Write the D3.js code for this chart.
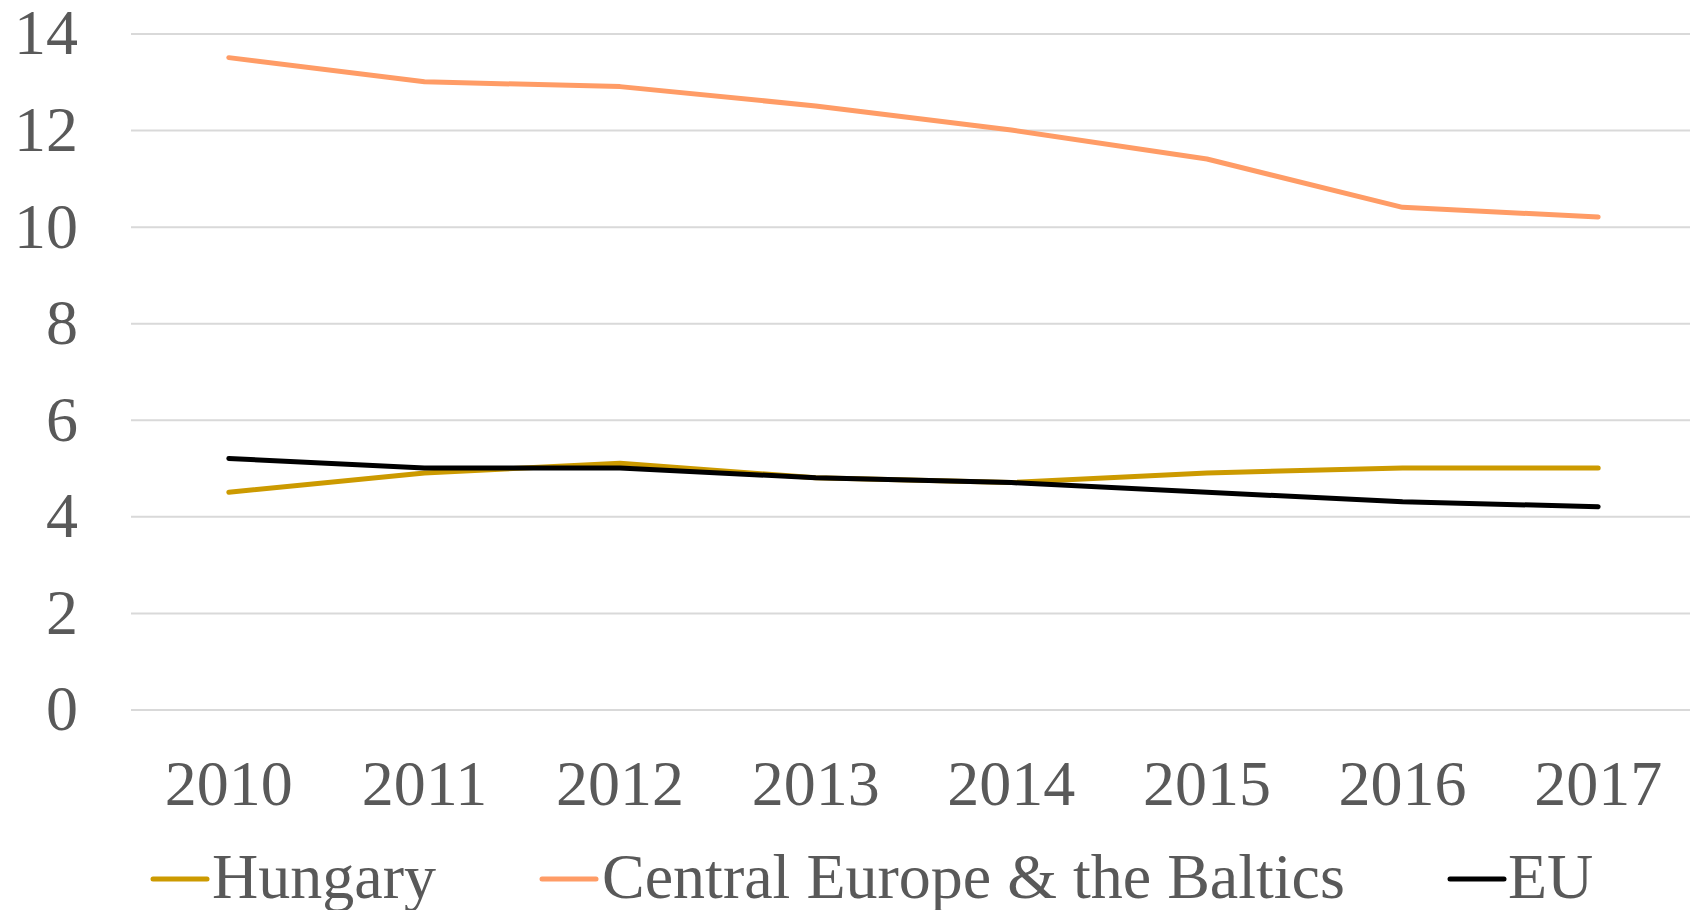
<!DOCTYPE html>
<html>
<head>
<meta charset="utf-8">
<script src="https://cdn.jsdelivr.net/npm/d3@7"></script>
<style>
  body { margin: 0; background: #fff; }
  svg text { font-family: "Liberation Serif", "Times New Roman", serif; fill: #595959; }
</style>
</head>
<body>
<svg id="chart"></svg>
<script>
// data
const years = ["2010", "2011", "2012", "2013", "2014", "2015", "2016", "2017"];
const hungary = [4.5, 4.9, 5.1, 4.8, 4.7, 4.9, 5.0, 5.0];
const ceBaltics = [13.5, 13.0, 12.9, 12.5, 12.0, 11.4, 10.4, 10.2];
const eu = [5.2, 5.0, 5.0, 4.8, 4.7, 4.5, 4.3, 4.2];
const yTicks = [0, 2, 4, 6, 8, 10, 12, 14];

const series = [
  { name: "Hungary", values: hungary, color: "#cc9a00", lx: 153, tx: 212 },
  { name: "Central Europe & the Baltics", values: ceBaltics, color: "#ff9c66", lx: 542, tx: 602 },
  { name: "EU", values: eu, color: "#000000", lx: 1450, tx: 1508 }
];

let width = 1690, height = 910,
    plotLeft = 131, plotRight = 1696, plotTop = 33.5, plotBottom = 709.5,
    fontSize = 64;

const svg = d3.select("#chart").attr("width", width).attr("height", height);

const xScale = d3.scaleBand().domain(years).range([plotLeft, plotRight]);
const yScale = d3.scaleLinear().domain([0, 14]).range([plotBottom, plotTop]);

// y axis + gridlines
const yAxis = svg.append("g")
  .attr("transform", `translate(${plotLeft},0)`)
  .call(d3.axisLeft(yScale).tickValues(yTicks).tickSize(-(width - plotLeft)).tickPadding(53));
yAxis.select(".domain").remove();
yAxis.selectAll("line").attr("stroke", "#d9d9d9").attr("stroke-width", 2);
yAxis.selectAll("text").style("font-size", fontSize + "px").attr("fill", "#595959");

// x axis
const xAxis = svg.append("g")
  .attr("transform", `translate(0,${plotBottom})`)
  .call(d3.axisBottom(xScale).tickSize(0).tickPadding(50));
xAxis.select(".domain").remove();
xAxis.selectAll("text").style("font-size", fontSize + "px").attr("fill", "#595959");

const line = d3.line()
  .x((d, i) => xScale(years[i]) + xScale.bandwidth() / 2)
  .y(d => yScale(d));

svg.selectAll(".series")
  .data(series)
  .enter()
  .append("path")
  .classed("series", true)
  .attr("d", d => line(d.values))
  .attr("fill", "none")
  .attr("stroke", d => d.color)
  .attr("stroke-width", 5)
  .attr("stroke-linecap", "round")
  .attr("stroke-linejoin", "round");

// legend
const legend = svg.selectAll(".legend")
  .data(series)
  .enter()
  .append("g")
  .classed("legend", true);

legend.append("line")
  .attr("x1", d => d.lx)
  .attr("x2", d => d.lx + 54)
  .attr("y1", 879)
  .attr("y2", 879)
  .attr("stroke", d => d.color)
  .attr("stroke-width", 5)
  .attr("stroke-linecap", "round");

legend.append("text")
  .attr("x", d => d.tx)
  .attr("y", 898)
  .style("font-size", fontSize + "px")
  .text(d => d.name);
</script>
</body>
</html>
